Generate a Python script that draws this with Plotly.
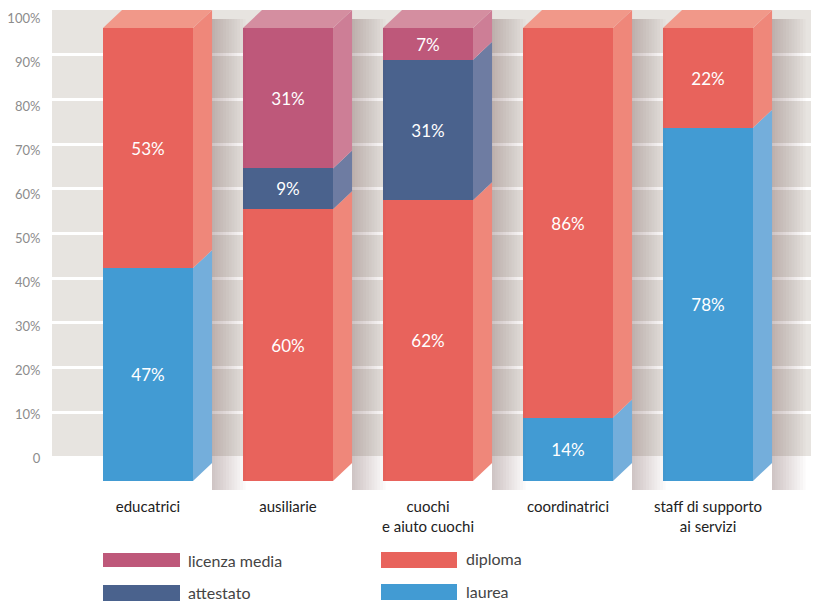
import plotly.graph_objects as go

# ---------------- data ----------------
categories = ["educatrici", "ausiliarie", "cuochi<br>e aiuto cuochi",
              "coordinatrici", "staff di supporto<br>ai servizi"]
laurea = [47, 0, 0, 14, 78]
diploma = [53, 60, 62, 86, 22]
attestato = [0, 9, 31, 0, 0]
licenza_media = [0, 31, 7, 0, 0]
tick_vals = [0, 10, 20, 30, 40, 50, 60, 70, 80, 90, 100]
tick_text = ["0", "10%", "20%", "30%", "40%", "50%", "60%", "70%", "80%", "90%", "100%"]

series = [
    ("laurea", laurea, "#429bd3", "#74aedb", "#8cbde2"),
    ("diploma", diploma, "#e8635c", "#ef877a", "#f19889"),
    ("attestato", attestato, "#4a628d", "#6e7ca2", "#8290b2"),
    ("licenza media", licenza_media, "#be587a", "#cd7e96", "#d48ea0"),
]

# ---------------- geometry (layout only) ----------------
OFF = 8                     # page body margin
W, H = 819, 603
PL, PR, PT, PB = 52, 827, 10, 490   # plot area in screenshot pixels
L, T = PL - OFF, PT - OFF
R = W - (PR - OFF)
B = H - (PB - OFF)
plot_w = PR - PL
plot_h = PB - PT
bar_w = 0.643
dx = 0.136          # depth in x units
dy = 3.97           # depth in y units (bar axis)
xs = list(range(len(categories)))

fig = go.Figure()

# soft shadows to the right of each bar
for i in xs:
    xr = i + bar_w / 2
    for k in range(1, 13):
        w = 0.02 * k
        fig.add_trace(go.Scatter(
            x=[xr + dx, xr + dx + w, xr + dx + w, xr + dx, xr + dx],
            y=[-3.5, -3.5, 100 + dy - 2, 100 + dy - 2, -3.5],
            mode="lines", fill="toself", fillcolor="rgba(70,60,50,0.022)",
            line=dict(width=0, color="rgba(0,0,0,0)"), hoverinfo="skip", showlegend=False))

# front faces
for name, vals, front, side, top in series:
    fig.add_trace(go.Bar(
        x=xs, y=vals, name=name, width=bar_w,
        marker=dict(color=front, line=dict(width=0)),
        text=[f"{v}%" if v > 0 else "" for v in vals],
        textposition="inside", insidetextanchor="middle",
        textfont=dict(color="white", size=17, family="Lato"),
        showlegend=False, hoverinfo="skip"))

# side and top faces
for i in xs:
    base = 0
    xl = i - bar_w / 2
    xr = i + bar_w / 2
    last_top = None
    for name, vals, front, side, top in series:
        v = vals[i]
        if v <= 0:
            continue
        y0, y1 = base, base + v
        fig.add_trace(go.Scatter(
            x=[xr, xr + dx, xr + dx, xr, xr],
            y=[y0, y0 + dy, y1 + dy, y1, y0],
            mode="lines", fill="toself", fillcolor=side,
            line=dict(width=0, color=side), hoverinfo="skip", showlegend=False))
        base = y1
        last_top = top
    fig.add_trace(go.Scatter(
        x=[xl, xl + dx, xr + dx, xr, xl],
        y=[base, base + dy, base + dy, base, base],
        mode="lines", fill="toself", fillcolor=last_top,
        line=dict(width=0, color=last_top), hoverinfo="skip", showlegend=False))

# dummy traces for overlay axes
fig.add_trace(go.Scatter(x=[0], y=[0], yaxis="y2", mode="markers",
                         marker=dict(opacity=0), hoverinfo="skip", showlegend=False))
fig.add_trace(go.Scatter(x=[0], y=[0], yaxis="y3", mode="markers",
                         marker=dict(opacity=0), hoverinfo="skip", showlegend=False))

# ---------------- legend (manual) ----------------
def px_x(p):
    return (p - PL) / plot_w

def px_y(p):
    return (PB - p) / plot_h

legend_items = [
    ("licenza media", "#be587a", 103, 180, 553, 567, 186, 560),
    ("attestato", "#4a628d", 103, 180, 585, 601, 186, 592),
    ("diploma", "#e8635c", 381, 457, 552, 568, 464, 558),
    ("laurea", "#429bd3", 381, 457, 584, 600, 464, 591),
]
shapes = [dict(type="rect", xref="paper", yref="y3", x0=0, x1=1, y0=0, y1=100,
               fillcolor="#e7e4e0", line=dict(width=0), layer="below")]
annotations = []
for label, col, x0, x1, y0, y1, tx, ty in legend_items:
    shapes.append(dict(type="rect", xref="paper", yref="paper",
                       x0=px_x(x0), x1=px_x(x1), y0=px_y(y1), y1=px_y(y0),
                       fillcolor=col, line=dict(width=0)))
    annotations.append(dict(xref="paper", yref="paper", x=px_x(tx), y=px_y(ty),
                            text=label, showarrow=False, xanchor="left", yanchor="middle",
                            font=dict(size=16, color="#444444", family="Lato")))

# axis ranges
bar_px = 4.53
bar_range = [-(PB - 481) / bar_px, 100 + (28 - PT) / bar_px]
grid_px = 4.47
grid_range = [-(PB - 457) / grid_px, 100]
lab_px = 4.4
lab_range = [-(PB - 458) / lab_px, 100 + (18 - PT) / lab_px]
x_range = [(PL - 148) / 140, (PR - 148) / 140]

fig.update_layout(
    width=W, height=H,
    margin=dict(l=L, r=R, t=T, b=B),
    paper_bgcolor="white", plot_bgcolor="rgba(0,0,0,0)",
    barmode="stack", bargap=0,
    font=dict(family="Lato", color="#333333"),
    shapes=shapes, annotations=annotations,
    xaxis=dict(range=x_range, tickvals=xs, ticktext=categories,
               showgrid=False, zeroline=False, showline=False,
               ticks="outside", ticklen=3, tickcolor="rgba(0,0,0,0)",
               tickfont=dict(size=15, color="#222222", family="Lato"),
               fixedrange=True),
    yaxis=dict(range=bar_range, visible=False, fixedrange=True),
    yaxis2=dict(range=lab_range, overlaying="y", side="left",
                tickvals=tick_vals, ticktext=tick_text, showgrid=False,
                zeroline=False, showline=False,
                ticks="outside", ticklen=8, tickcolor="rgba(0,0,0,0)",
                tickfont=dict(size=13, color="#8c8c8c", family="Lato"),
                fixedrange=True),
    yaxis3=dict(range=grid_range, overlaying="y", side="right",
                tickvals=tick_vals, showticklabels=False, showgrid=True,
                gridcolor="white", gridwidth=2.5, zeroline=False, showline=False,
                fixedrange=True),
    showlegend=False,
)

fig.write_html("out.html")
